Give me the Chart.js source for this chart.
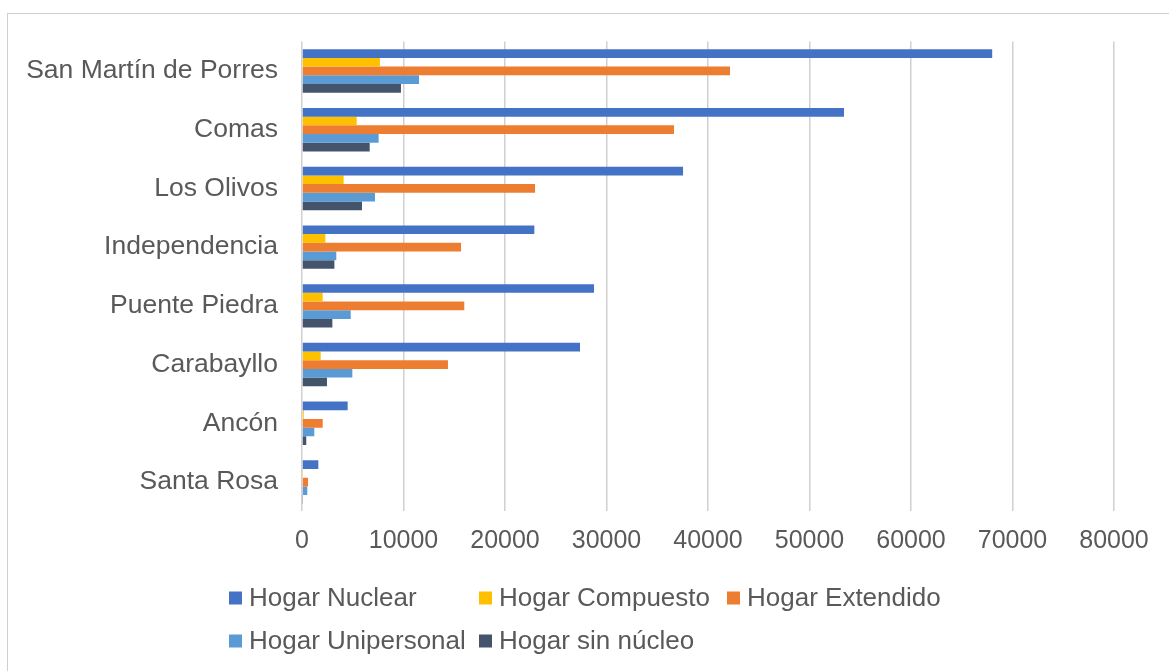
<!DOCTYPE html>
<html>
<head>
<meta charset="utf-8">
<script src="https://cdn.jsdelivr.net/npm/chart.js@4.4.0/dist/chart.umd.min.js"></script>
<style>
  html, body { margin: 0; padding: 0; background: #fff; overflow: hidden; }
  #wrap { position: relative; width: 1169px; height: 671px; }
  #frame { position: absolute; left: 7px; top: 13px; width: 1200px; height: 700px; border: 1.5px solid #cfcfcf; }
  canvas { position: absolute; left: 0; top: 0; }
</style>
</head>
<body>
<div id="wrap">
  <div id="frame"></div>
  <canvas id="chart" width="1169" height="671"></canvas>
</div>
<script>
// distritos
let distritos = ['San Martín de Porres', 'Comas', 'Los Olivos', 'Independencia', 'Puente Piedra', 'Carabayllo', 'Ancón', 'Santa Rosa'];

// valores
let nuclear     = [68000, 53400, 37540, 22890, 28770, 27390, 4500, 1610];
let compuesto   = [7680, 5390, 4100, 2300, 2040, 1840, 170, 100];
let extendido   = [42170, 36650, 22960, 15670, 15990, 14380, 2040, 590];
let unipersonal = [11530, 7550, 7190, 3380, 4800, 4960, 1210, 520];
let sinNucleo   = [9750, 6670, 5910, 3190, 2990, 2460, 420, 100];

let xTicks = [0, 10000, 20000, 30000, 40000, 50000, 60000, 70000, 80000];

let fuente = "'Liberation Sans', Arial, sans-serif";
let gris = '#595959';

// leyenda en columnas (como excel)
let legendPlugin = {
    id: 'leyenda',
    afterDraw: function(chart) {
        let {ctx} = chart;
        let cols = [229, 479, 727];
        let rows = [598, 641];
        ctx.save();
        ctx.font = '26px ' + fuente;
        ctx.textBaseline = 'middle';
        ctx.textAlign = 'left';
        chart.data.datasets.forEach((d, i) => {
            let x = cols[i % 3];
            let y = rows[Math.floor(i / 3)];
            ctx.fillStyle = d.backgroundColor;
            ctx.fillRect(x, y - 6.5, 13, 13);
            ctx.fillStyle = gris;
            ctx.fillText(d.label, x + 20, y + 1);
        });
        ctx.restore();
    }
};

let ctx = document.getElementById('chart').getContext('2d');

let chart = new Chart(ctx, {
    type: 'bar',
    data: {
        labels: distritos,
        datasets: [
            { label: 'Hogar Nuclear', data: nuclear, backgroundColor: '#4472C4' },
            { label: 'Hogar Compuesto', data: compuesto, backgroundColor: '#FFC000' },
            { label: 'Hogar Extendido', data: extendido, backgroundColor: '#ED7D31' },
            { label: 'Hogar Unipersonal', data: unipersonal, backgroundColor: '#5B9BD5' },
            { label: 'Hogar sin núcleo', data: sinNucleo, backgroundColor: '#44546A' }
        ]
    },
    options: {
        indexAxis: 'y',
        responsive: false,
        animation: false,
        categoryPercentage: 0.74,
        barPercentage: 1,
        layout: { padding: { top: 41.6, left: 0, right: 55, bottom: 109.6 } },
        plugins: {
            legend: { display: false },
            tooltip: { enabled: false }
        },
        scales: {
            x: {
                min: 0,
                max: 80000,
                afterBuildTicks: function(scale) {
                    scale.ticks = xTicks.map(v => ({ value: v }));
                },
                afterFit: function(scale) { scale.height = 50; },
                grid: { color: '#d0d0d0', lineWidth: 1.5, drawTicks: false },
                border: { display: false },
                ticks: {
                    padding: 15,
                    color: gris,
                    font: { family: fuente, size: 25 },
                    callback: v => String(v)
                }
            },
            y: {
                afterFit: function(scale) { scale.width = 302; },
                grid: { display: false, drawTicks: false },
                border: { display: false },
                ticks: {
                    padding: 24,
                    color: gris,
                    font: { family: fuente, size: 26.5 }
                }
            }
        }
    },
    plugins: [legendPlugin]
});
</script>
</body>
</html>
